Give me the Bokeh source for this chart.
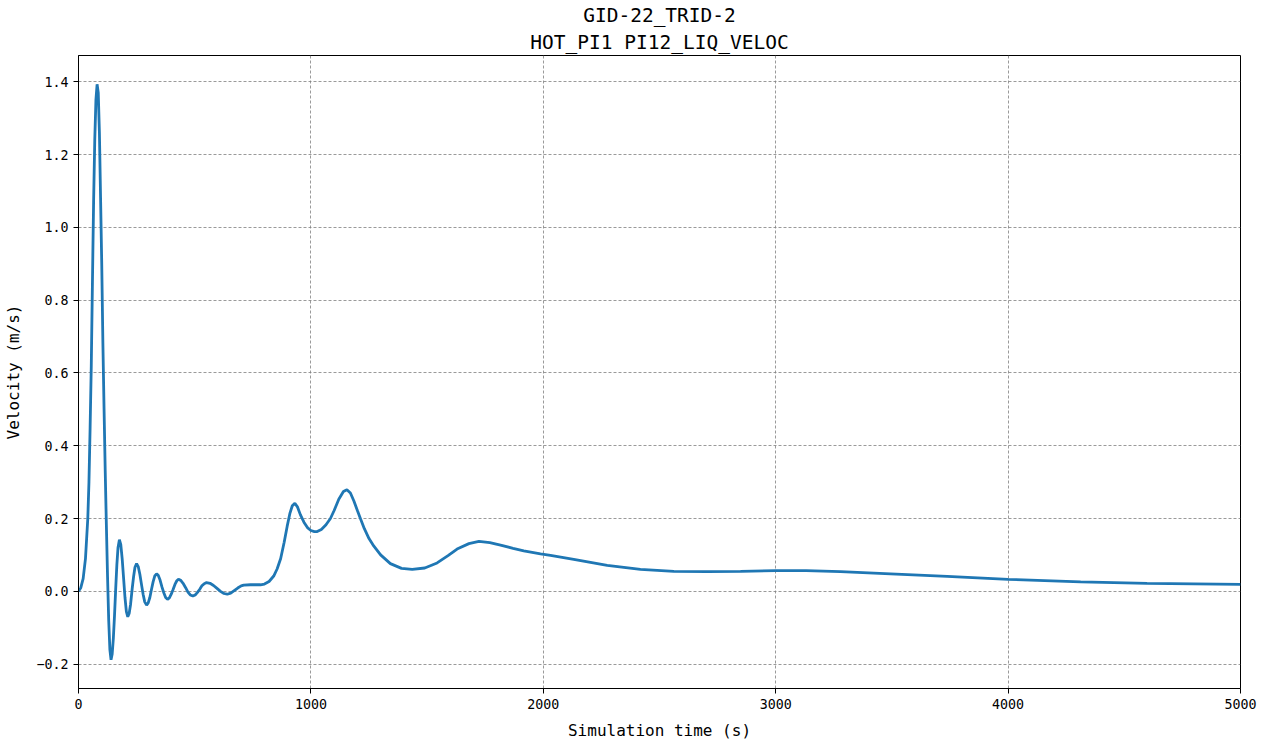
from bokeh.plotting import figure
from bokeh.models import FixedTicker, CustomJSTickFormatter, Range1d, ColumnDataSource, Title
from bokeh.embed import file_html
from bokeh.resources import INLINE

# Liquid velocity history, time in seconds, velocity in m/s
time_s = [
    0, 10, 20, 30, 40, 45, 50, 55, 60, 65, 70, 75, 80, 85, 90, 95, 100, 105, 110, 115,
    120, 125, 130, 135, 140, 145, 150, 155, 160, 165, 170, 176, 182, 188, 194, 200, 206,
    212, 218, 224, 231, 237, 243, 250, 257, 264, 271, 278, 285, 293, 300, 307, 314, 321,
    328, 336, 343, 351, 359, 367, 375, 383, 391, 399, 407, 415, 423, 430, 440, 450, 461,
    471, 481, 492, 502, 512, 521, 531, 541, 551, 566, 581, 596, 611, 626, 640, 655, 670,
    685, 700, 711, 740, 783, 800, 820, 840, 855, 870, 885, 898, 910, 920, 931, 942, 955,
    970, 985, 1000, 1015, 1027, 1045, 1065, 1084, 1100, 1120, 1140, 1155, 1170, 1185,
    1200, 1213, 1230, 1250, 1271, 1300, 1342, 1390, 1436, 1490, 1543, 1590, 1629, 1680,
    1723, 1770, 1816, 1870, 1916, 1988, 2031, 2131, 2275, 2418, 2562, 2705, 2849, 3000,
    3131, 3279, 3494, 3738, 4000, 4312, 4598, 5000,
]
velocity = [
    0.0, 0.01, 0.035, 0.09, 0.2, 0.3, 0.45, 0.62, 0.85, 1.07, 1.24, 1.35, 1.393, 1.37,
    1.26, 1.08, 0.9, 0.68, 0.5, 0.33, 0.18, 0.04, -0.08, -0.16, -0.188, -0.172, -0.129,
    -0.066, 0.006, 0.072, 0.12, 0.142, 0.128, 0.089, 0.036, -0.017, -0.056, -0.070,
    -0.061, -0.036, 0.007, 0.04, 0.066, 0.076, 0.068, 0.047, 0.019, -0.008, -0.029,
    -0.038, -0.032, -0.017, 0.005, 0.026, 0.042, 0.048, 0.044, 0.031, 0.012, -0.004,
    -0.017, -0.022, -0.018, -0.008, 0.005, 0.019, 0.029, 0.033, 0.030, 0.022, 0.010,
    -0.002, -0.010, -0.013, -0.010, -0.003, 0.005, 0.015, 0.021, 0.024, 0.022, 0.016,
    0.008, 0.000, -0.006, -0.008, -0.005, 0.002, 0.009, 0.015, 0.017, 0.018, 0.018,
    0.02, 0.027, 0.042, 0.062, 0.09, 0.135, 0.179, 0.215, 0.235, 0.242, 0.232, 0.21,
    0.19, 0.175, 0.167, 0.164, 0.164, 0.17, 0.183, 0.2, 0.222, 0.253, 0.274, 0.279,
    0.27, 0.248, 0.222, 0.2, 0.172, 0.145, 0.124, 0.1, 0.076, 0.063, 0.060, 0.064,
    0.078, 0.098, 0.116, 0.131, 0.137, 0.134, 0.127, 0.118, 0.111, 0.103, 0.099,
    0.088, 0.071, 0.060, 0.055, 0.054, 0.055, 0.057, 0.057, 0.054, 0.048, 0.041,
    0.033, 0.026, 0.022, 0.019,
]

x_ticks = [0, 1000, 2000, 3000, 4000, 5000]
y_ticks = [-0.2, 0.0, 0.2, 0.4, 0.6, 0.8, 1.0, 1.2, 1.4]
title_lines = ["GID-22_TRID-2", "HOT_PI1 PI12_LIQ_VELOC"]

MONO = "DejaVu Sans Mono"

p = figure(
    width=1268, height=745,
    output_backend="svg", toolbar_location=None,
    x_range=Range1d(0, 5000), y_range=Range1d(-0.267, 1.472),
    min_border_left=78, min_border_right=28, min_border_top=55, min_border_bottom=57,
    title=None,
)

# Two centred title lines, inner line first so the first line sits on top
for text, standoff in ((title_lines[1], 4), (title_lines[0], 0)):
    p.add_layout(Title(text=text, align="center", text_font=MONO,
                       text_font_size="19.5px", text_font_style="normal",
                       text_color="#000000", standoff=standoff,
                       text_line_height=1.0), "above")

src = ColumnDataSource(dict(t=time_s, v=velocity))
p.line("t", "v", source=src, line_color="#1f77b4", line_width=2.8)

p.xaxis.ticker = FixedTicker(ticks=x_ticks)
p.yaxis.ticker = FixedTicker(ticks=y_ticks)
p.yaxis.formatter = CustomJSTickFormatter(
    code="return tick.toFixed(1).replace('-', '\u2212');"
)
p.xaxis.formatter = CustomJSTickFormatter(code="return tick.toFixed(0);")

for ax in (p.xaxis, p.yaxis):
    ax.major_label_text_font = MONO
    ax.major_label_text_font_size = "13.3px"
    ax.major_label_text_color = "#000000"
    ax.axis_label_text_font = MONO
    ax.axis_label_text_font_size = "16px"
    ax.axis_label_text_font_style = "normal"
    ax.axis_label_text_color = "#000000"
    ax.major_tick_in = 0
    ax.major_tick_out = 5
    ax.minor_tick_in = 0
    ax.minor_tick_out = 0
    ax.axis_line_color = "#000000"
    ax.major_tick_line_color = "#000000"

p.xaxis.axis_label = "Simulation time (s)"
p.yaxis.axis_label = "Velocity (m/s)"
p.xaxis.major_label_standoff = 5
p.yaxis.major_label_standoff = 5
p.xaxis.axis_label_standoff = 9
p.yaxis.axis_label_standoff = 10

p.grid.grid_line_color = "#808080"
p.grid.grid_line_dash = "3 2"
p.grid.grid_line_width = 0.8

p.outline_line_color = "#000000"
p.outline_line_width = 1
p.outline_line_alpha = 1.0

open("out.html", "w").write(file_html(p, INLINE))
